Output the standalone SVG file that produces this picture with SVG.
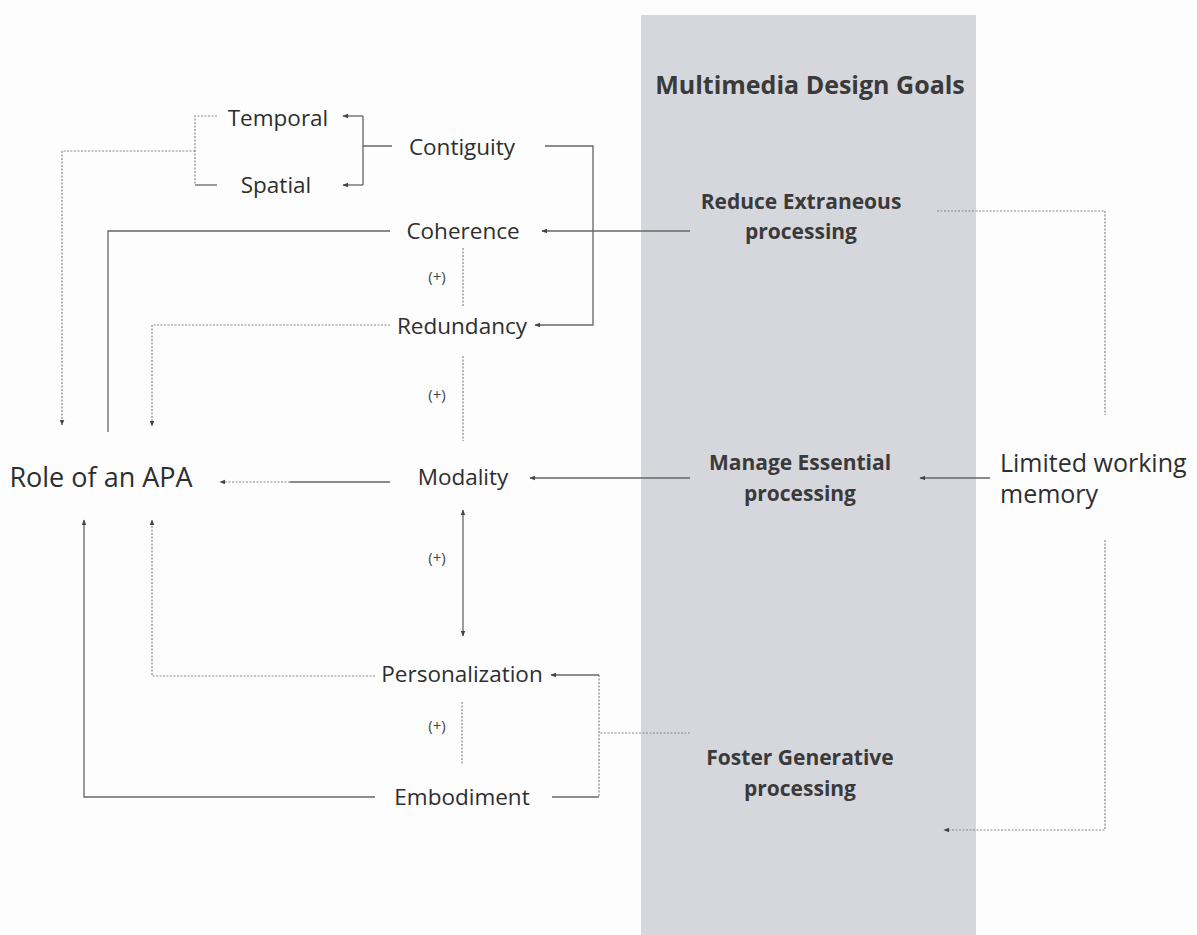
<svg xmlns="http://www.w3.org/2000/svg" width="1197" height="935" viewBox="0 0 1197 935">
<defs>
<marker id="ah" viewBox="0 0 10 10" refX="9" refY="5" markerWidth="6" markerHeight="6" markerUnits="userSpaceOnUse" orient="auto-start-reverse">
<path d="M0,1 L10,5 L0,9 z" fill="#444"/>
</marker>
<style>
.n{font-family:"Open Sans",Lato,"Liberation Sans",sans-serif;font-size:22.5px;fill:#2e2e2e;text-anchor:middle;dominant-baseline:central}
.g{font-family:"Open Sans",Lato,"Liberation Sans",sans-serif;font-size:21px;font-weight:bold;fill:#3a3a3a;text-anchor:middle;dominant-baseline:central}
.p{font-family:"Open Sans",Lato,"Liberation Sans",sans-serif;font-size:15px;fill:#444;text-anchor:middle;dominant-baseline:central}
.big{font-size:27px}
.mem{font-size:25px;text-anchor:start}
.ttl{font-size:25px}
.s{fill:none;stroke:#666;stroke-width:1.3}
.d{fill:none;stroke:#888;stroke-width:1.2;stroke-dasharray:2 1.5}
</style>
</defs>
<rect width="1197" height="935" fill="#fdfdfd"/>
<rect id="panel" x="641" y="15" width="335" height="920" fill="#d6d6dd"/>
<g id="connectors">
<path class="s" d="M392,146 H363 M363,116 V185" />
<path class="s" d="M363,116 H343" marker-end="url(#ah)"/>
<path class="s" d="M363,185 H343" marker-end="url(#ah)"/>
<path class="d" d="M217,116 H195 V185"/>
<path class="s" d="M195,185 H217"/>
<path class="d" d="M195,151 H62 V425" marker-end="url(#ah)"/>
<path class="s" d="M390,231 H108 V432"/>
<path class="d" d="M390,325 H152 V426" marker-end="url(#ah)"/>
<path class="s" d="M545,146 H593 V325 H535" marker-end="url(#ah)"/>
<path class="s" d="M690,231 H542" marker-end="url(#ah)"/>
<path class="d" d="M463,248 V307"/>
<path class="d" d="M463,356 V441"/>
<path class="s" d="M463,510 V636" marker-start="url(#ah)" marker-end="url(#ah)"/>
<path class="d" d="M462,702 V765"/>
<path class="d" d="M937,211 H1105 V415"/>
<path class="s" d="M990,478 H920" marker-end="url(#ah)"/>
<path class="d" d="M1105,540 V830 H944" marker-end="url(#ah)"/>
<path class="s" d="M690,478 H530" marker-end="url(#ah)"/>
<path class="d" d="M290,482 H220" marker-end="url(#ah)"/>
<path class="s" d="M390,482 H290" stroke="#999"/>
<path class="d" d="M375,676 H152 V520" marker-end="url(#ah)"/>
<path class="s" d="M375,797 H84 V520" marker-end="url(#ah)"/>
<path class="d" d="M690,733 H599"/>
<path class="d" d="M599,675 V797"/>
<path class="s" d="M599,675 H551" marker-end="url(#ah)"/>
<path class="s" d="M599,797 H552"/>
</g>
<text class="p" x="437" y="276">(+)</text>
<text class="p" x="437" y="394">(+)</text>
<text class="p" x="437" y="557">(+)</text>
<text class="p" x="437" y="725">(+)</text>
<g id="title"><text class="g ttl" x="810" y="84">Multimedia Design Goals</text></g>
<g id="temporal"><text class="n" x="278" y="117">Temporal</text></g>
<g id="spatial"><text class="n" x="276" y="184">Spatial</text></g>
<g id="contiguity"><text class="n" x="462" y="146">Contiguity</text></g>
<g id="coherence"><text class="n" x="463" y="230">Coherence</text></g>
<g id="redundancy"><text class="n" x="462" y="325">Redundancy</text></g>
<g id="role"><text class="n big" x="101" y="476">Role of an APA</text></g>
<g id="modality"><text class="n" x="463" y="476">Modality</text></g>
<g id="personalization"><text class="n" x="462" y="673">Personalization</text></g>
<g id="embodiment"><text class="n" x="462" y="796">Embodiment</text></g>
<g id="reduce"><text class="g" x="801" y="201">Reduce Extraneous</text><text class="g" x="801" y="231">processing</text></g>
<g id="manage"><text class="g" x="800" y="462">Manage Essential</text><text class="g" x="800" y="493">processing</text></g>
<g id="foster"><text class="g" x="800" y="757">Foster Generative</text><text class="g" x="800" y="788">processing</text></g>
<g id="memory"><text class="n mem" x="1000" y="462">Limited working</text><text class="n mem" x="1000" y="493">memory</text></g>
</svg>
